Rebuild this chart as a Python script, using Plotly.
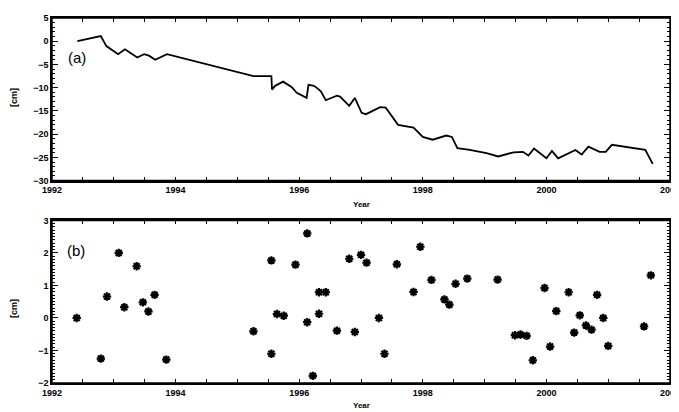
import plotly.graph_objects as go
from plotly.subplots import make_subplots

# Panel (a): cumulative series [cm]
years_a = [1992.41, 1992.79, 1992.88, 1993.07, 1993.18, 1993.38, 1993.49, 1993.57, 1993.67,
           1993.86, 1995.26, 1995.55, 1995.56, 1995.61, 1995.74, 1995.88, 1995.96, 1996.12,
           1996.15, 1996.24, 1996.31, 1996.35, 1996.43, 1996.61, 1996.66, 1996.81, 1996.90,
           1997.01, 1997.08, 1997.31, 1997.40, 1997.60, 1997.85, 1998.00, 1998.16, 1998.38,
           1998.47, 1998.56, 1998.76, 1999.03, 1999.22, 1999.47, 1999.62, 1999.71, 1999.80,
           2000.00, 2000.09, 2000.19, 2000.47, 2000.57, 2000.68, 2000.86, 2000.96, 2001.06,
           2001.60, 2001.72]
values_a = [0.0, 1.1, -1.05, -2.8, -1.75, -3.5, -2.8, -3.1, -4.0,
            -2.8, -7.5, -7.5, -10.4, -9.6, -8.7, -9.9, -11.1, -12.2,
            -9.4, -9.6, -10.3, -10.8, -12.7, -11.7, -11.9, -13.9, -12.2,
            -15.4, -15.7, -14.2, -14.3, -18.0, -18.6, -20.6, -21.2, -20.3,
            -20.6, -23.0, -23.4, -24.1, -24.8, -23.9, -23.8, -24.6, -23.1,
            -25.2, -23.6, -25.2, -23.4, -24.4, -22.7, -23.8, -23.8, -22.3,
            -23.4, -26.4]

# Panel (b): residuals [cm]
years_b = [1992.40, 1992.79, 1992.89, 1993.08, 1993.17, 1993.37, 1993.47, 1993.56, 1993.66,
           1993.85, 1995.26, 1995.55, 1995.55, 1995.64, 1995.75, 1995.94, 1996.13, 1996.13,
           1996.22, 1996.32, 1996.32, 1996.43, 1996.61, 1996.81, 1996.90, 1997.00, 1997.09,
           1997.29, 1997.38, 1997.58, 1997.85, 1997.96, 1998.14, 1998.35, 1998.43, 1998.53,
           1998.72, 1999.21, 1999.49, 1999.58, 1999.68, 1999.78, 1999.97, 2000.06, 2000.16,
           2000.36, 2000.45, 2000.54, 2000.64, 2000.73, 2000.82, 2000.92, 2001.00, 2001.58,
           2001.69]
values_b = [0.0, -1.25, 0.66, 2.0, 0.33, 1.59, 0.48, 0.2, 0.71,
            -1.28, -0.41, 1.77, -1.10, 0.12, 0.07, 1.64, 2.6, -0.13,
            -1.78, 0.13, 0.79, 0.79, -0.39, 1.82, -0.43, 1.94, 1.70,
            0.0, -1.10, 1.65, 0.80, 2.19, 1.17, 0.57, 0.41, 1.05,
            1.21, 1.18, -0.53, -0.51, -0.55, -1.30, 0.92, -0.88, 0.21,
            0.79, -0.45, 0.08, -0.23, -0.36, 0.71, 0.0, -0.86, -0.26,
            1.31]

x_ticks = [1992, 1994, 1996, 1998, 2000, 2002]

# the page body adds an 8px offset, so the figure is sized to fit the window
OFF = 8
W, H = 679 - OFF, 412 - OFF
ml, mr, mt, mb = 52 - OFF, 9, 18 - OFF, 29
ph = H - mt - mb
pw = W - ml - mr
def fy(px):
    return (H - mb - (px - OFF)) / ph
def fx(px):
    return ((px - OFF) - ml) / pw

fig = make_subplots(rows=2, cols=1, vertical_spacing=0.109)
fig.add_trace(go.Scatter(x=years_a, y=values_a, mode="lines", name="a",
                         line=dict(color="black", width=1.8)), row=1, col=1)
fig.add_trace(go.Scatter(x=years_b, y=values_b, mode="markers", name="b",
                         marker=dict(symbol="asterisk-open", size=7, color="black",
                                     line=dict(color="black", width=2.2))), row=2, col=1)

fig.update_xaxes(range=[x_ticks[0], x_ticks[-1]], tick0=x_ticks[0], dtick=x_ticks[1] - x_ticks[0],
                 tickprefix="<b>", ticksuffix="</b>", ticklabeloverflow="allow", automargin=False,
                 showline=True, linecolor="black", linewidth=1.5, mirror="allticks",
                 ticks="inside", ticklen=4, tickwidth=1.2, tickcolor="black",
                 minor=dict(dtick=0.5, ticks="inside", ticklen=4, tickwidth=1.2, tickcolor="black"))
fig.update_yaxes(showline=True, linecolor="black", linewidth=1.5, mirror="allticks",
                 ticks="inside", ticklen=6, tickwidth=1.2, tickcolor="black",
                 automargin=False, tickprefix="<b>", ticksuffix="</b>")
fig.update_yaxes(range=[-30, 5], dtick=5, tick0=0,
                 minor=dict(dtick=1, ticks="inside", ticklen=3, tickwidth=1.2, tickcolor="black"),
                 row=1, col=1)
fig.update_yaxes(range=[-2, 3], dtick=1, tick0=0,
                 minor=dict(dtick=0.1, ticks="inside", ticklen=3, tickwidth=1.2, tickcolor="black"),
                 row=2, col=1)

# frame boxes around both panels
for xr, yr in (("x domain", "y domain"), ("x2 domain", "y2 domain")):
    fig.add_shape(type="rect", xref=xr, yref=yr, x0=0, x1=1, y0=0, y1=1,
                  line=dict(color="black", width=1.5), fillcolor="rgba(0,0,0,0)", layer="above")

for ytxt, ycm in ((204, 98), (405, 309)):
    fig.add_annotation(text="<b>Year</b>", xref="paper", yref="paper", x=fx(361), y=fy(ytxt),
                       xanchor="center", yanchor="middle", showarrow=False, font=dict(size=8))
    fig.add_annotation(text="<b>[cm]</b>", xref="paper", yref="paper", x=fx(14), y=fy(ycm),
                       xanchor="center", yanchor="middle", showarrow=False, textangle=-90)

fig.add_annotation(text="(a)", xref="paper", yref="paper", x=fx(66), y=fy(57),
                   xanchor="left", yanchor="middle", showarrow=False, font=dict(size=15))
fig.add_annotation(text="(b)", xref="paper", yref="paper", x=fx(65), y=fy(251),
                   xanchor="left", yanchor="middle", showarrow=False, font=dict(size=15))

fig.update_layout(width=W, height=H, margin=dict(l=ml, r=mr, t=mt, b=mb, autoexpand=False),
                  font=dict(family="Liberation Sans", size=9, color="black"),
                  showlegend=False, paper_bgcolor="white", plot_bgcolor="white")
fig.write_html("out.html")
